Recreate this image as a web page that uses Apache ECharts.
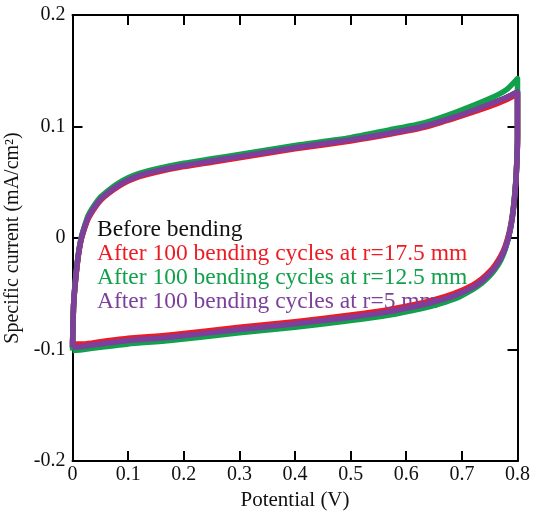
<!DOCTYPE html>
<html>
<head>
<meta charset="utf-8">
<script src="https://cdn.jsdelivr.net/npm/echarts@6/dist/echarts.min.js"></script>
<style>
  html, body { margin: 0; padding: 0; background: #fff; }
  #chart { width: 537px; height: 512px; }
</style>
</head>
<body>
<div id="chart"></div>
<script>
// Cyclic voltammograms: anodic sweep (0 -> 0.8 V) then cathodic sweep (0.8 -> 0 V)
const seriesNames = [
  'Before bending',
  'After 100 bending cycles at r=17.5 mm',
  'After 100 bending cycles at r=12.5 mm',
  'After 100 bending cycles at r=5 mm'
];
const seriesColors = ['#111111', '#ed1c24', '#12a04c', '#7d3f9b'];

// Potential (V) sampled along each sweep
const forwardPotential = [0, 0.002, 0.005, 0.01, 0.015, 0.02, 0.028, 0.04, 0.051, 0.065, 0.082, 0.1, 0.12, 0.15, 0.2, 0.25, 0.3, 0.4, 0.5, 0.57, 0.63, 0.69, 0.75, 0.78, 0.8];
const reversePotential = [0.8, 0.8, 0.799, 0.797, 0.794, 0.79, 0.785, 0.778, 0.77, 0.76, 0.75, 0.735, 0.72, 0.69, 0.66, 0.63, 0.57, 0.5, 0.4, 0.3, 0.175, 0.1, 0.05, 0.02, 0];

// Specific current (mA/cm2), anodic sweep
const forwardBefore = [-0.098, -0.060, -0.040, -0.017, -0.002, 0.007, 0.018, 0.028, 0.035, 0.041, 0.047, 0.052, 0.056, 0.060, 0.065, 0.069, 0.073, 0.081, 0.088, 0.094, 0.100, 0.109, 0.120, 0.126, 0.131];
const forwardR175   = [-0.095, -0.060, -0.041, -0.018, -0.003, 0.006, 0.017, 0.027, 0.034, 0.040, 0.046, 0.051, 0.055, 0.059, 0.064, 0.068, 0.072, 0.080, 0.087, 0.093, 0.099, 0.108, 0.118, 0.124, 0.129];
const forwardR125   = [-0.101, -0.060, -0.039, -0.016, -0.001, 0.008, 0.020, 0.030, 0.037, 0.043, 0.049, 0.054, 0.058, 0.062, 0.067, 0.071, 0.075, 0.083, 0.090, 0.097, 0.103, 0.113, 0.125, 0.133, 0.143];
const forwardR5     = [-0.098, -0.060, -0.040, -0.017, -0.002, 0.007, 0.018, 0.028, 0.035, 0.041, 0.047, 0.052, 0.056, 0.060, 0.065, 0.069, 0.073, 0.081, 0.088, 0.094, 0.100, 0.109, 0.120, 0.126, 0.131];

// Specific current (mA/cm2), cathodic sweep
const reverseBefore = [0.131, 0.090, 0.070, 0.050, 0.032, 0.016, 0.003, -0.009, -0.018, -0.026, -0.032, -0.039, -0.044, -0.051, -0.056, -0.060, -0.066, -0.071, -0.077, -0.082, -0.089, -0.092, -0.095, -0.097, -0.098];
const reverseR175   = [0.129, 0.090, 0.071, 0.051, 0.033, 0.018, 0.005, -0.007, -0.016, -0.024, -0.030, -0.037, -0.042, -0.049, -0.054, -0.058, -0.064, -0.069, -0.075, -0.080, -0.087, -0.090, -0.093, -0.095, -0.095];
const reverseR125   = [0.143, 0.090, 0.072, 0.052, 0.034, 0.017, 0.003, -0.010, -0.020, -0.028, -0.034, -0.041, -0.046, -0.054, -0.059, -0.063, -0.069, -0.074, -0.080, -0.085, -0.092, -0.095, -0.098, -0.100, -0.101];
const reverseR5     = [0.131, 0.090, 0.070, 0.050, 0.032, 0.016, 0.003, -0.009, -0.018, -0.026, -0.032, -0.039, -0.044, -0.051, -0.056, -0.060, -0.066, -0.071, -0.077, -0.082, -0.089, -0.092, -0.095, -0.097, -0.098];

const forwardCurrents = [forwardBefore, forwardR175, forwardR125, forwardR5];
const reverseCurrents = [reverseBefore, reverseR175, reverseR125, reverseR5];

const xTicks = { min: 0, max: 0.8, interval: 0.1 };
const yTicks = { min: -0.2, max: 0.2, interval: 0.1 };

function loop(fwd, rev) {
  const pts = [];
  forwardPotential.forEach((v, i) => pts.push([v, fwd[i]]));
  reversePotential.forEach((v, i) => pts.push([v, rev[i]]));
  return pts;
}

const font = 'Liberation Serif, Times New Roman, serif';
const axisLine = { show: true, onZero: false, lineStyle: { color: '#000', width: 2 } };
const axisTick = { show: true, inside: true, length: 10, lineStyle: { color: '#000', width: 2 } };

const chart = echarts.init(document.getElementById('chart'), null, { renderer: 'canvas' });
chart.setOption({
  backgroundColor: '#fff',
  animation: false,
  grid: { left: 72.5, right: 19.5, top: 15, bottom: 51, outerBoundsMode: 'none', containLabel: false },
  legend: {
    left: 87, top: 213, orient: 'vertical', icon: 'none',
    itemWidth: 0, itemHeight: 0, itemGap: 0, selectedMode: false,
    data: seriesNames.map((n, i) => ({ name: n, textStyle: { color: seriesColors[i] } })),
    textStyle: { fontFamily: font, fontSize: 23.5, lineHeight: 18.8 }
  },
  xAxis: [{
    type: 'value', position: 'bottom', ...xTicks,
    name: 'Potential (V)', nameLocation: 'middle', nameGap: 29,
    nameTextStyle: { fontFamily: font, fontSize: 21, color: '#111' },
    axisLine, axisTick, splitLine: { show: false },
    axisLabel: { fontFamily: font, fontSize: 20, color: '#111', margin: 4 }
  }, {
    type: 'value', position: 'top', ...xTicks,
    axisLine, axisTick, splitLine: { show: false }, axisLabel: { show: false }
  }],
  yAxis: [{
    type: 'value', position: 'left', ...yTicks,
    name: 'Specific current (mA/cm²)', nameLocation: 'middle', nameGap: 38,
    nameTextStyle: { fontFamily: font, fontSize: 20, color: '#111' },
    axisLine, axisTick, splitLine: { show: false },
    axisLabel: { fontFamily: font, fontSize: 20, color: '#111', margin: 7 }
  }, {
    type: 'value', position: 'right', ...yTicks,
    axisLine, axisTick, splitLine: { show: false }, axisLabel: { show: false }
  }],
  series: seriesNames.map((n, i) => ({
    name: n, type: 'line', xAxisIndex: 0, yAxisIndex: 0,
    data: loop(forwardCurrents[i], reverseCurrents[i]),
    showSymbol: false, smooth: 0.2, smoothMonotone: 'none',
    color: seriesColors[i],
    lineStyle: { width: 5.5, color: seriesColors[i], join: 'round' },
    z: 2 + i
  }))
});
</script>
</body>
</html>
